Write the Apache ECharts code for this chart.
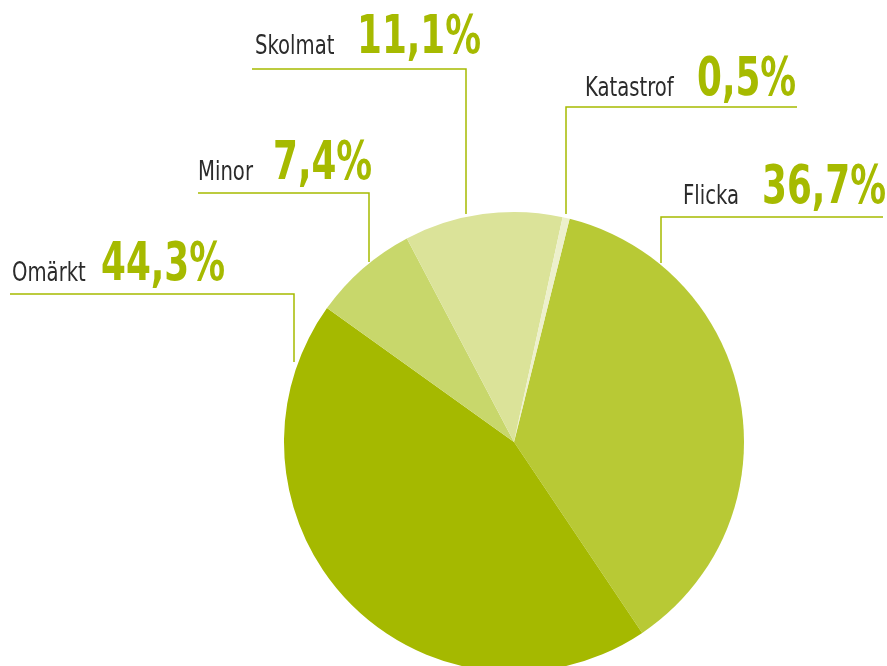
<!DOCTYPE html>
<html>
<head>
<meta charset="utf-8">
<script src="https://cdn.jsdelivr.net/npm/echarts@6/dist/echarts.min.js"></script>
<style>
  html, body { margin: 0; padding: 0; background: #fff; }
  #chart { width: 887px; height: 666px; }
</style>
</head>
<body>
<div id="chart"></div>
<script>
// data, clockwise from just right of the top
const names = ['Flicka', 'Omärkt', 'Minor', 'Skolmat', 'Katastrof'];
const values = [36.7, 44.3, 7.4, 11.1, 0.5];
const colors = ['#b8c935', '#a5b900', '#c8d76b', '#dbe399', '#edf0cc'];

// label placement: name x, value x, text baseline, and the callout line (edge -> corner -> end)
const labelPos = [
  { nx: 683, vx: 762, base: 205, line: [[661, 263], [661, 217], [883, 217]] },
  { nx: 12, vx: 101, base: 282, line: [[294, 362], [294, 294], [10, 294]] },
  { nx: 198, vx: 273, base: 181, line: [[369, 262], [369, 193], [198, 193]] },
  { nx: 255, vx: 357, base: 55, line: [[466, 214], [466, 69], [252, 69]] },
  { nx: 585, vx: 697, base: 97, line: [[566, 214], [566, 107], [797, 107]] }
];

const font = '"DejaVu Sans Condensed", "DejaVu Sans", sans-serif';
const nameSize = 26, valueSize = 53;
const green = '#a6ba00';

function fmt(v) {
  return v.toFixed(1).replace('.', ',') + '%';
}

// callouts: texts are squeezed horizontally to get the narrow look of the original
const callouts = [];
names.forEach((n, i) => {
  const p = labelPos[i];
  callouts.push({
    type: 'polyline',
    silent: true,
    shape: { points: p.line },
    style: { stroke: green, lineWidth: 1.5, fill: null }
  });
  callouts.push({
    type: 'text',
    silent: true,
    x: p.nx,
    y: p.base - nameSize * 0.3,
    scaleX: 0.84,
    style: { text: n, font: nameSize + 'px ' + font, fill: '#2b2b2b', align: 'left', verticalAlign: 'middle' }
  });
  callouts.push({
    type: 'text',
    silent: true,
    x: p.vx,
    y: p.base - valueSize * 0.3,
    scaleX: 0.75,
    style: { text: fmt(values[i]), font: 'bold ' + valueSize + 'px ' + font, fill: green, align: 'left', verticalAlign: 'middle' }
  });
});

const chart = echarts.init(document.getElementById('chart'));
chart.setOption({
  animation: false,
  color: colors,
  graphic: callouts,
  series: [
    {
      type: 'pie',
      center: [514, 442],
      radius: 230,
      startAngle: 76,
      clockwise: true,
      data: names.map((n, i) => ({ name: n, value: values[i] })),
      label: { show: false },
      labelLine: { show: false },
      emphasis: { disabled: true }
    }
  ]
});
</script>
</body>
</html>
